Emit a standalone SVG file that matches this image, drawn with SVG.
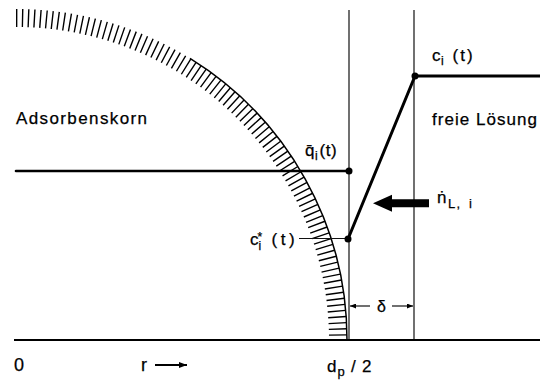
<svg xmlns="http://www.w3.org/2000/svg" width="540" height="381" viewBox="0 0 540 381">
<style>
  text { font-family: "Liberation Sans", Arial, sans-serif; fill: #000; stroke: #000; stroke-width: 0.25; }
  .lbl { font-size: 17px; }
  .sub { font-size: 12px; }
  .thin { stroke: #111; stroke-width: 1.2; fill: none; }
  .thick { stroke: #000; stroke-width: 3; fill: none; stroke-linecap: round; }
  .dot { fill: #000; }
</style>
<defs>
  <marker id="ah" viewBox="0 0 8 6" refX="8" refY="3" markerWidth="8" markerHeight="6" markerUnits="userSpaceOnUse" orient="auto">
    <path d="M0,0 L8,3 L0,6 Z" fill="#000"/>
  </marker>
  <marker id="ahs" viewBox="0 0 6 5" refX="6" refY="2.5" markerWidth="6" markerHeight="5" markerUnits="userSpaceOnUse" orient="auto">
    <path d="M0,0 L6,2.5 L0,5 Z" fill="#000"/>
  </marker>
</defs>

<g id="particle">
  <path d="M16,18 A322,322 0 0 1 338,340" fill="none" stroke="#000" stroke-width="18" stroke-dasharray="1.4 4.55"/>
  <path d="M190,58.4 A331,331 0 0 1 347,340" fill="none" stroke="#000" stroke-width="1.5"/>
  <text class="lbl" x="16" y="124" textLength="131" lengthAdjust="spacing">Adsorbenskorn</text>
</g>

<g id="boundaries">
  <line class="thin" x1="349" y1="10" x2="349" y2="340"/>
  <line class="thin" x1="414" y1="10" x2="414" y2="340"/>
</g>

<g id="connectors">
  <line x1="14" y1="340" x2="540" y2="340" stroke="#000" stroke-width="2.2"/>
  <line class="thick" x1="16" y1="171" x2="349" y2="171" style="stroke-width:2.6"/>
  <line class="thick" x1="348" y1="239" x2="415" y2="76"/>
  <line class="thick" x1="415" y1="76" x2="540" y2="76"/>
  <line class="thin" x1="299" y1="238.5" x2="348" y2="238.5"/>
  <line class="thin" x1="370" y1="306" x2="350" y2="306" marker-end="url(#ahs)"/>
  <line class="thin" x1="392" y1="306" x2="413" y2="306" marker-end="url(#ahs)"/>
  <line x1="155" y1="365" x2="187" y2="365" stroke="#000" stroke-width="2" marker-end="url(#ah)"/>
  <polygon points="373,203.3 392,194.8 392,199.3 429,199.3 429,207.3 392,207.3 392,211.8" fill="#000"/>
</g>

<g id="dots">
  <circle class="dot" cx="349" cy="171" r="3.5"/>
  <circle class="dot" cx="348" cy="239" r="3.5"/>
  <circle class="dot" cx="415" cy="76" r="3.5"/>
</g>

<g id="solution">
  <text class="lbl" x="432" y="125" textLength="105" lengthAdjust="spacing">freie Lösung</text>
</g>

<g id="label-ci">
  <text class="lbl" x="432" y="61">c<tspan class="sub" x="441" dy="4">i</tspan><tspan x="452.5" dy="-4" letter-spacing="2">(t)</tspan></text>
</g>

<g id="label-qi">
  <text class="lbl" x="305" y="156">q̄<tspan class="sub" x="315" dy="4">i</tspan><tspan x="319.5" dy="-4" letter-spacing="0.5">(t)</tspan></text>
</g>

<g id="label-cstar">
  <text class="lbl" x="250" y="245">c<tspan class="sub" x="257.5" dy="-4.5">*</tspan><tspan class="sub" x="258.5" dy="9.5">i</tspan><tspan x="271.5" dy="-5" letter-spacing="3.5">(t)</tspan></text>
</g>

<g id="label-flux">
  <text class="lbl" x="437" y="203.3">ṅ<tspan class="sub" x="448" dy="5" style="font-size:13px">L</tspan><tspan class="sub" x="456.5" style="font-size:13px">,</tspan><tspan class="sub" x="469" style="font-size:13px">i</tspan></text>
</g>

<g id="label-delta">
  <text class="lbl" x="377" y="311.5" style="font-size:16px">δ</text>
</g>

<g id="axis-labels">
  <text x="14" y="371" style="font-size:18px">0</text>
  <text x="141" y="371" style="font-size:18px">r</text>
  <text class="lbl" x="327" y="372">d<tspan class="sub" x="337.5" dy="4" style="font-size:13px">p</tspan><tspan x="351" dy="-4">/</tspan><tspan x="362">2</tspan></text>
</g>
</svg>
